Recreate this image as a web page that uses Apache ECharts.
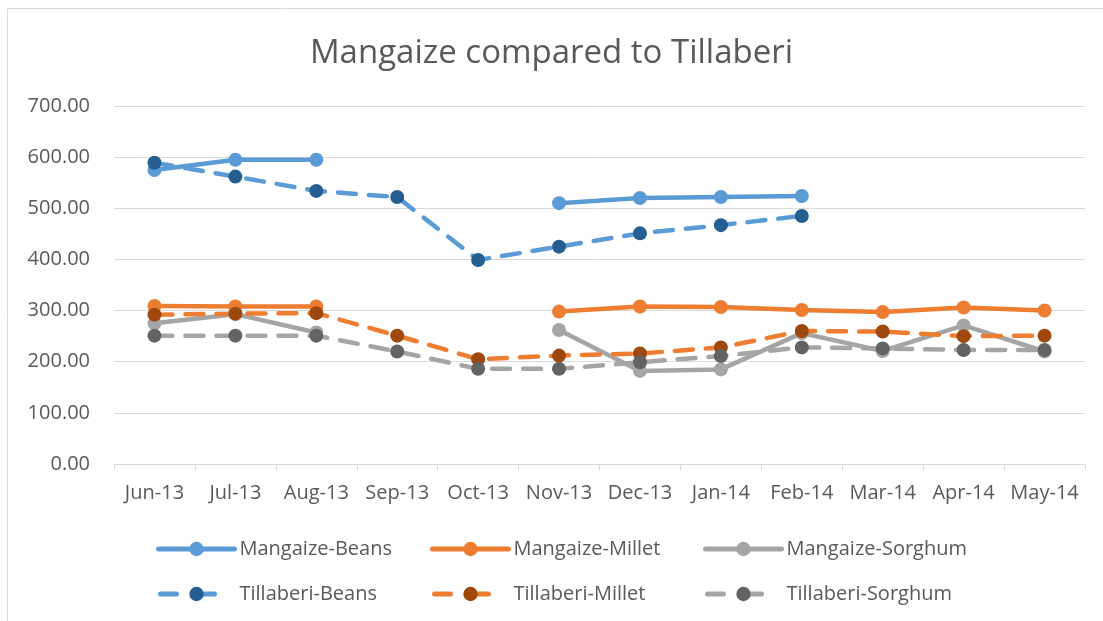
<!DOCTYPE html>
<html><head><meta charset="utf-8">
<script src="https://cdn.jsdelivr.net/npm/echarts@6/dist/echarts.min.js"></script>
<style>html,body{margin:0;padding:0;background:#fff}#c{width:1103px;height:621px}</style>
</head><body><div id="c"></div>
<script>
const categories = ['Jun-13','Jul-13','Aug-13','Sep-13','Oct-13','Nov-13','Dec-13','Jan-14','Feb-14','Mar-14','Apr-14','May-14'];
const mangaizeBeans   = [575, 595, 595, null, null, 510, 520, 522, 524, null, null, null];
const mangaizeMillet  = [309, 308, 308, null, null, 298, 308, 307, 301, 297, 306, 300];
const mangaizeSorghum = [275, 293, 257, null, null, 262, 182, 185, 256, 221, 271, 220];
const tillaberiBeans  = [589, 562, 534, 522, 399, 425, 451, 467, 485, null, null, null];
const tillaberiMillet = [292, 294, 295, 251, 205, 212, 216, 228, 260, 259, 250, 251];
const tillaberiSorghum= [251, 251, 251, 220, 186, 186, 199, 211, 228, 226, 223, 223];
const yTicks = [0, 100, 200, 300, 400, 500, 600, 700];

const FONT = '"Open Sans", "Liberation Sans", sans-serif';
const TXT = '#595959';
const light = {beans:'#5B9BD5', millet:'#ED7D31', sorghum:'#A5A5A5'};
const dark  = {beans:'#255E91', millet:'#9E480E', sorghum:'#636363'};

function mk(name, data, lineColor, markColor, dashed){
  return {
    name, type:'line', data, symbol:'circle', symbolSize:14, connectNulls:false,
    lineStyle:{color:lineColor, width:4.5, type: dashed ? [18,13] : 'solid', cap:'round', join:'round'},
    itemStyle:{color:markColor, borderWidth:0},
    emphasis:{disabled:true}, animation:false
  };
}
const series = [
  mk('Mangaize-Beans', mangaizeBeans, light.beans, light.beans, false),
  mk('Mangaize-Millet', mangaizeMillet, light.millet, light.millet, false),
  mk('Mangaize-Sorghum', mangaizeSorghum, light.sorghum, light.sorghum, false),
  mk('Tillaberi-Beans', tillaberiBeans, light.beans, dark.beans, true),
  mk('Tillaberi-Millet', tillaberiMillet, light.millet, dark.millet, true),
  mk('Tillaberi-Sorghum', tillaberiSorghum, light.sorghum, dark.sorghum, true)
];
const legendPos = [[151,534],[425,534],[698,534],[151,579],[425,579],[698,579]];
const legends = series.map((s,i)=>({
  data:[s.name], left:legendPos[i][0], top:legendPos[i][1], itemWidth:76, itemHeight:18, itemGap:4,
  lineStyle:{width:5, cap:'round', type: i>=3 ? [16,22] : 'solid', dashOffset: i>=3 ? -2 : 0},
  textStyle:{fontFamily:FONT, fontSize:20, color:TXT}, selectedMode:false
}));

const chart = echarts.init(document.getElementById('c'), null, {renderer:'canvas'});
chart.setOption({
  backgroundColor:'#fff',
  animation:false,
  title:{text:'Mangaize compared to Tillaberi', left:'center', top:32,
    textStyle:{fontFamily:FONT, fontSize:33, fontWeight:'normal', color:TXT}},
  graphic:[{type:'rect', shape:{x:7.5, y:8.5, width:1120, height:640}, style:{fill:null, stroke:'#D9D9D9', lineWidth:1}, silent:true}],
  legend:legends,
  grid:{left:114, right:18, top:106, bottom:157},
  xAxis:{type:'category', data:categories, boundaryGap:true,
    axisLine:{lineStyle:{color:'#D9D9D9', width:1}},
    axisTick:{show:true, length:6, lineStyle:{color:'#D9D9D9'}},
    axisLabel:{fontFamily:FONT, fontSize:20, color:TXT, margin:19, interval:0, hideOverlap:false}},
  yAxis:{type:'value', min:yTicks[0], max:yTicks[yTicks.length-1], interval:100,
    axisLine:{show:false}, axisTick:{show:false},
    splitLine:{lineStyle:{color:'#D9D9D9', width:1}},
    axisLabel:{fontFamily:FONT, fontSize:20, color:TXT, margin:24, formatter:v=>v.toFixed(2)}},
  series
});
</script></body></html>
